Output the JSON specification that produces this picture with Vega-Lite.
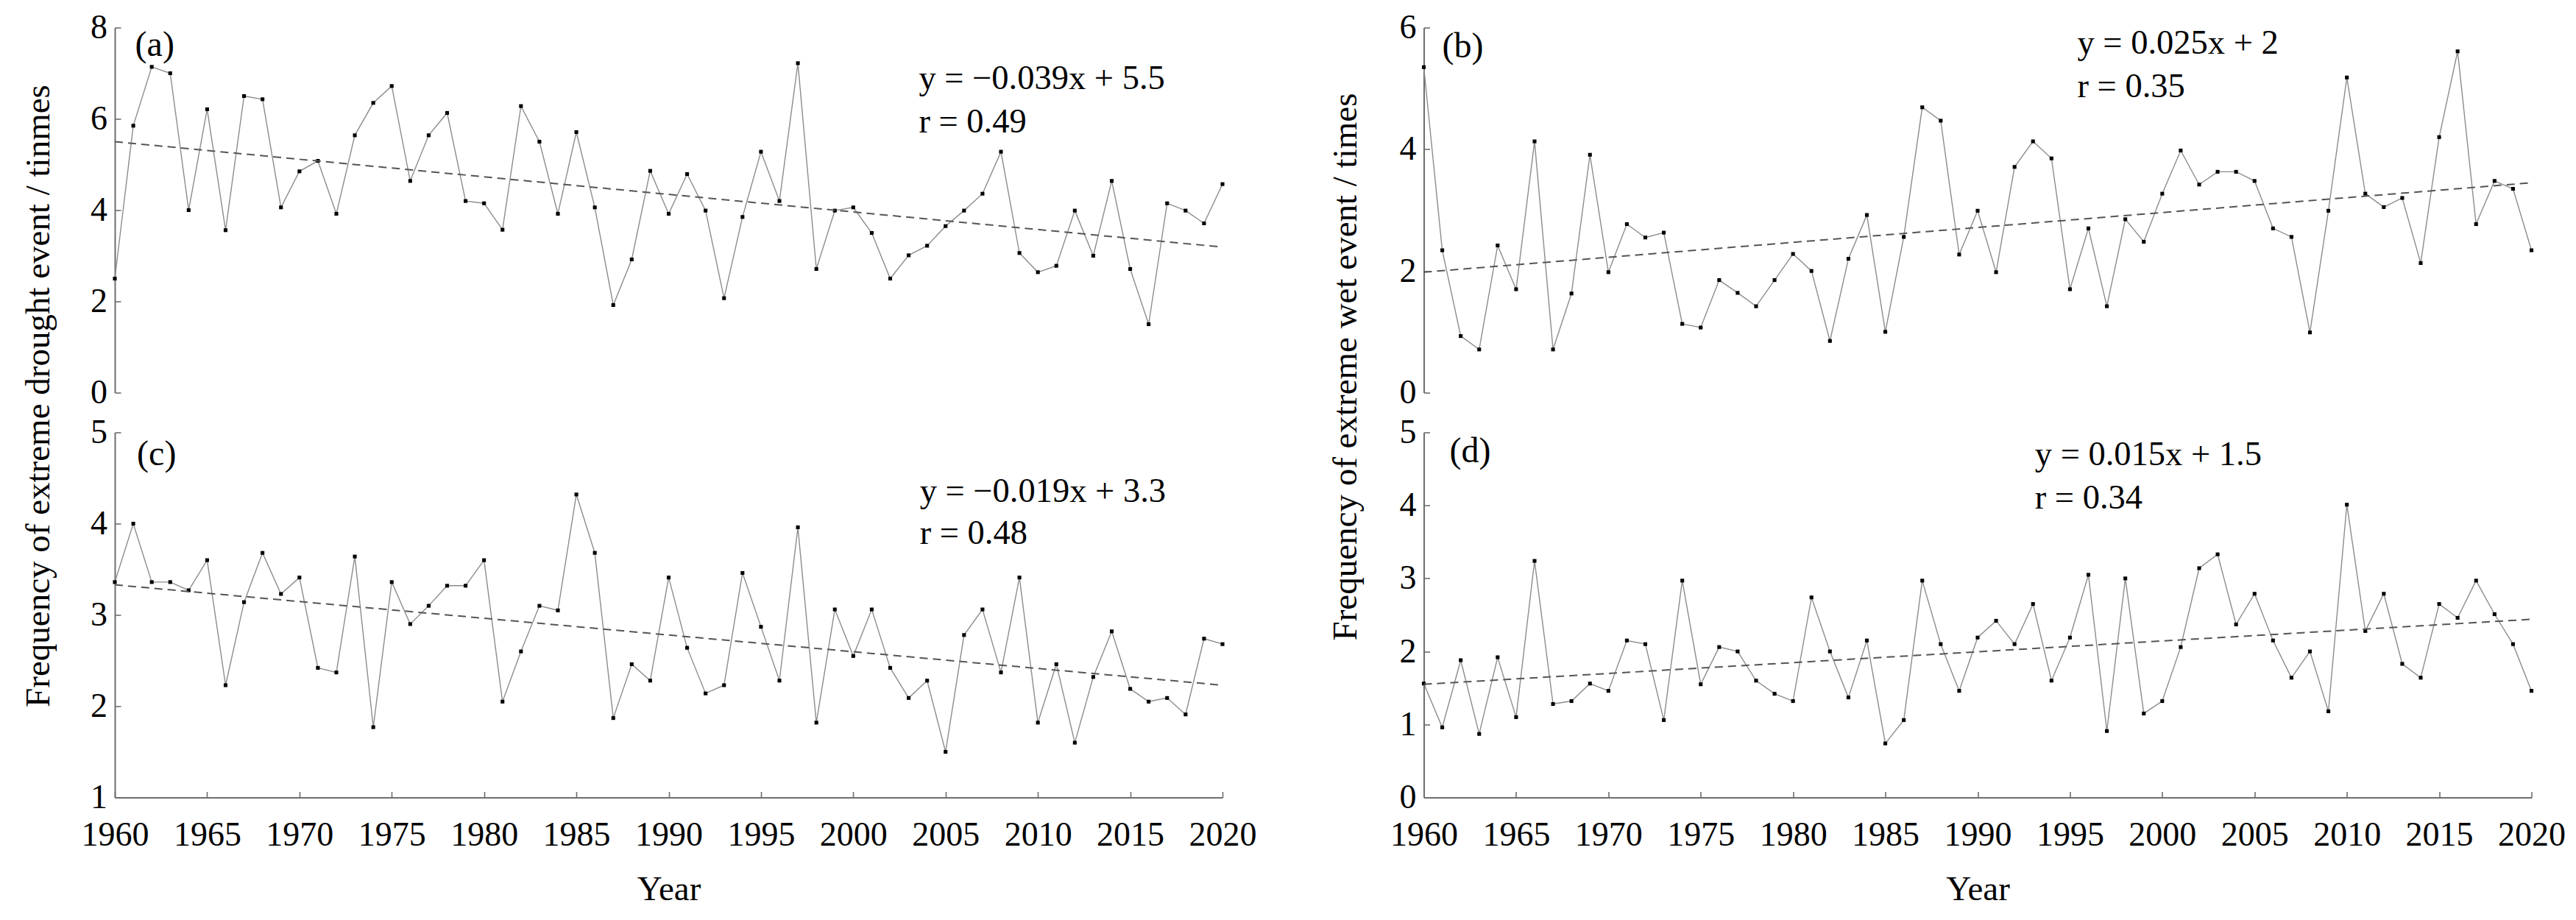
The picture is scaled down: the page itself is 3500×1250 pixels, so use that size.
{
  "$schema": "https://vega.github.io/schema/vega-lite/v6.json",
  "background": "white",
  "padding": {"left": 27, "top": 14.5, "right": 5, "bottom": 5},
  "config": {
    "view": {"stroke": null},
    "font": "Liberation Serif",
    "axis": {
      "grid": false,
      "domainColor": "#6e6e6e",
      "domainWidth": 2,
      "tickColor": "#6e6e6e",
      "tickWidth": 1.6,
      "tickSize": -8,
      "labelFont": "Liberation Serif",
      "labelFontSize": 46,
      "labelColor": "#000000",
      "titleFont": "Liberation Serif",
      "titleFontSize": 47,
      "titleFontWeight": "normal",
      "titleColor": "#000000"
    },
    "axisY": {"labelPadding": 18.5, "format": "d"},
    "axisX": {"labelPadding": 37, "labelFlush": false},
    "text": {"font": "Liberation Serif", "color": "#000000"}
  },
  "bounds": "flush",
  "columns": 2,
  "spacing": {"row": 54, "column": 273.5},
  "datasets": {
    "a": [
      {"year":1960,"v":2.50},{"year":1961,"v":5.85},{"year":1962,"v":7.14},{"year":1963,"v":7.00},{"year":1964,"v":4.00},{"year":1965,"v":6.21},{"year":1966,"v":3.56},{"year":1967,"v":6.50},{"year":1968,"v":6.43},{"year":1969,"v":4.06},
      {"year":1970,"v":4.85},{"year":1971,"v":5.08},{"year":1972,"v":3.92},{"year":1973,"v":5.64},{"year":1974,"v":6.35},{"year":1975,"v":6.72},{"year":1976,"v":4.64},{"year":1977,"v":5.64},{"year":1978,"v":6.13},{"year":1979,"v":4.20},
      {"year":1980,"v":4.15},{"year":1981,"v":3.57},{"year":1982,"v":6.28},{"year":1983,"v":5.50},{"year":1984,"v":3.92},{"year":1985,"v":5.71},{"year":1986,"v":4.06},{"year":1987,"v":1.92},{"year":1988,"v":2.92},{"year":1989,"v":4.86},
      {"year":1990,"v":3.92},{"year":1991,"v":4.79},{"year":1992,"v":3.99},{"year":1993,"v":2.07},{"year":1994,"v":3.85},{"year":1995,"v":5.28},{"year":1996,"v":4.20},{"year":1997,"v":7.22},{"year":1998,"v":2.71},{"year":1999,"v":3.99},
      {"year":2000,"v":4.06},{"year":2001,"v":3.50},{"year":2002,"v":2.50},{"year":2003,"v":3.01},{"year":2004,"v":3.22},{"year":2005,"v":3.65},{"year":2006,"v":3.99},{"year":2007,"v":4.36},{"year":2008,"v":5.28},{"year":2009,"v":3.06},
      {"year":2010,"v":2.64},{"year":2011,"v":2.78},{"year":2012,"v":3.99},{"year":2013,"v":3.00},{"year":2014,"v":4.64},{"year":2015,"v":2.71},{"year":2016,"v":1.50},{"year":2017,"v":4.15},{"year":2018,"v":3.99},{"year":2019,"v":3.71},{"year":2020,"v":4.57}
    ],
    "b": [
      {"year":1960,"v":5.35},{"year":1961,"v":2.34},{"year":1962,"v":0.93},{"year":1963,"v":0.71},{"year":1964,"v":2.42},{"year":1965,"v":1.70},{"year":1966,"v":4.13},{"year":1967,"v":0.71},{"year":1968,"v":1.63},{"year":1969,"v":3.91},
      {"year":1970,"v":1.98},{"year":1971,"v":2.77},{"year":1972,"v":2.55},{"year":1973,"v":2.63},{"year":1974,"v":1.13},{"year":1975,"v":1.07},{"year":1976,"v":1.85},{"year":1977,"v":1.64},{"year":1978,"v":1.42},{"year":1979,"v":1.85},
      {"year":1980,"v":2.28},{"year":1981,"v":2.00},{"year":1982,"v":0.85},{"year":1983,"v":2.20},{"year":1984,"v":2.92},{"year":1985,"v":1.00},{"year":1986,"v":2.56},{"year":1987,"v":4.69},{"year":1988,"v":4.47},{"year":1989,"v":2.27},
      {"year":1990,"v":2.99},{"year":1991,"v":1.98},{"year":1992,"v":3.71},{"year":1993,"v":4.13},{"year":1994,"v":3.85},{"year":1995,"v":1.70},{"year":1996,"v":2.70},{"year":1997,"v":1.42},{"year":1998,"v":2.85},{"year":1999,"v":2.48},
      {"year":2000,"v":3.27},{"year":2001,"v":3.98},{"year":2002,"v":3.42},{"year":2003,"v":3.63},{"year":2004,"v":3.63},{"year":2005,"v":3.48},{"year":2006,"v":2.70},{"year":2007,"v":2.56},{"year":2008,"v":0.99},{"year":2009,"v":2.99},
      {"year":2010,"v":5.18},{"year":2011,"v":3.27},{"year":2012,"v":3.05},{"year":2013,"v":3.20},{"year":2014,"v":2.13},{"year":2015,"v":4.20},{"year":2016,"v":5.61},{"year":2017,"v":2.77},{"year":2018,"v":3.48},{"year":2019,"v":3.35},{"year":2020,"v":2.34}
    ],
    "c": [
      {"year":1960,"v":3.36},{"year":1961,"v":4.00},{"year":1962,"v":3.36},{"year":1963,"v":3.36},{"year":1964,"v":3.27},{"year":1965,"v":3.60},{"year":1966,"v":2.23},{"year":1967,"v":3.14},{"year":1968,"v":3.68},{"year":1969,"v":3.23},
      {"year":1970,"v":3.41},{"year":1971,"v":2.42},{"year":1972,"v":2.37},{"year":1973,"v":3.64},{"year":1974,"v":1.77},{"year":1975,"v":3.36},{"year":1976,"v":2.90},{"year":1977,"v":3.10},{"year":1978,"v":3.32},{"year":1979,"v":3.32},
      {"year":1980,"v":3.60},{"year":1981,"v":2.05},{"year":1982,"v":2.60},{"year":1983,"v":3.10},{"year":1984,"v":3.05},{"year":1985,"v":4.32},{"year":1986,"v":3.68},{"year":1987,"v":1.87},{"year":1988,"v":2.46},{"year":1989,"v":2.28},
      {"year":1990,"v":3.41},{"year":1991,"v":2.64},{"year":1992,"v":2.14},{"year":1993,"v":2.23},{"year":1994,"v":3.46},{"year":1995,"v":2.87},{"year":1996,"v":2.28},{"year":1997,"v":3.96},{"year":1998,"v":1.82},{"year":1999,"v":3.06},
      {"year":2000,"v":2.55},{"year":2001,"v":3.06},{"year":2002,"v":2.42},{"year":2003,"v":2.09},{"year":2004,"v":2.28},{"year":2005,"v":1.50},{"year":2006,"v":2.78},{"year":2007,"v":3.06},{"year":2008,"v":2.37},{"year":2009,"v":3.41},
      {"year":2010,"v":1.82},{"year":2011,"v":2.46},{"year":2012,"v":1.60},{"year":2013,"v":2.32},{"year":2014,"v":2.82},{"year":2015,"v":2.19},{"year":2016,"v":2.05},{"year":2017,"v":2.09},{"year":2018,"v":1.91},{"year":2019,"v":2.74},{"year":2020,"v":2.68}
    ],
    "d": [
      {"year":1960,"v":1.56},{"year":1961,"v":0.96},{"year":1962,"v":1.88},{"year":1963,"v":0.87},{"year":1964,"v":1.92},{"year":1965,"v":1.10},{"year":1966,"v":3.24},{"year":1967,"v":1.28},{"year":1968,"v":1.32},{"year":1969,"v":1.56},
      {"year":1970,"v":1.46},{"year":1971,"v":2.15},{"year":1972,"v":2.10},{"year":1973,"v":1.06},{"year":1974,"v":2.97},{"year":1975,"v":1.55},{"year":1976,"v":2.06},{"year":1977,"v":2.00},{"year":1978,"v":1.60},{"year":1979,"v":1.42},
      {"year":1980,"v":1.32},{"year":1981,"v":2.74},{"year":1982,"v":2.00},{"year":1983,"v":1.37},{"year":1984,"v":2.15},{"year":1985,"v":0.74},{"year":1986,"v":1.06},{"year":1987,"v":2.97},{"year":1988,"v":2.10},{"year":1989,"v":1.46},
      {"year":1990,"v":2.19},{"year":1991,"v":2.42},{"year":1992,"v":2.10},{"year":1993,"v":2.65},{"year":1994,"v":1.60},{"year":1995,"v":2.19},{"year":1996,"v":3.05},{"year":1997,"v":0.91},{"year":1998,"v":3.00},{"year":1999,"v":1.15},
      {"year":2000,"v":1.32},{"year":2001,"v":2.06},{"year":2002,"v":3.14},{"year":2003,"v":3.33},{"year":2004,"v":2.37},{"year":2005,"v":2.79},{"year":2006,"v":2.15},{"year":2007,"v":1.64},{"year":2008,"v":2.00},{"year":2009,"v":1.18},
      {"year":2010,"v":4.01},{"year":2011,"v":2.28},{"year":2012,"v":2.79},{"year":2013,"v":1.83},{"year":2014,"v":1.64},{"year":2015,"v":2.65},{"year":2016,"v":2.46},{"year":2017,"v":2.97},{"year":2018,"v":2.51},{"year":2019,"v":2.10},{"year":2020,"v":1.46}
    ],
    "ta": [{"year":1960,"t":5.50},{"year":2020,"t":3.19}],
    "tb": [{"year":1960,"t":1.98},{"year":2020,"t":3.45}],
    "tc": [{"year":1960,"t":3.33},{"year":2020,"t":2.23}],
    "td": [{"year":1960,"t":1.55},{"year":2020,"t":2.44}]
  },
  "concat": [
    {
      "width": 1505, "height": 496,
      "layer": [
        {"data": {"name": "a"}, "mark": {"type": "line", "color": "#8c8c8c", "strokeWidth": 1.4},
         "encoding": {
           "x": {"field": "year", "type": "quantitative", "scale": {"domain": [1960, 2020], "nice": false, "zero": false}, "axis": null},
           "y": {"field": "v", "type": "quantitative", "scale": {"domain": [0, 8], "nice": false, "zero": false},
                 "axis": {"values": [0, 2, 4, 6, 8], "title": "Frequency of extreme drought event / tinmes", "titleX": -90, "titleY": 500, "titleAlign": "center", "titleBaseline": "alphabetic", "titleAngle": -90}}}},
        {"data": {"name": "a"}, "mark": {"type": "point", "shape": "square", "filled": true, "color": "#000000", "size": 26, "opacity": 1},
         "encoding": {"x": {"field": "year", "type": "quantitative"}, "y": {"field": "v", "type": "quantitative"}}},
        {"data": {"name": "ta"}, "mark": {"type": "line", "color": "#555555", "strokeWidth": 2, "strokeDash": [11, 7]},
         "encoding": {"x": {"field": "year", "type": "quantitative"}, "y": {"field": "t", "type": "quantitative"}}},
        {"data": {"values": [{}]}, "mark": {"type": "text", "align": "left", "baseline": "alphabetic", "fontSize": 48},
         "encoding": {"x": {"datum": 1961.1}, "y": {"datum": 7.38}, "text": {"value": "(a)"}}},
        {"data": {"values": [{}]}, "mark": {"type": "text", "align": "left", "baseline": "alphabetic", "fontSize": 46.5},
         "encoding": {"x": {"datum": 2003.55}, "y": {"datum": 6.65}, "text": {"value": "y = −0.039x + 5.5"}}},
        {"data": {"values": [{}]}, "mark": {"type": "text", "align": "left", "baseline": "alphabetic", "fontSize": 46.5},
         "encoding": {"x": {"datum": 2003.55}, "y": {"datum": 5.70}, "text": {"value": "r = 0.49"}}}
      ]
    },
    {
      "width": 1505, "height": 496,
      "layer": [
        {"data": {"name": "b"}, "mark": {"type": "line", "color": "#8c8c8c", "strokeWidth": 1.4},
         "encoding": {
           "x": {"field": "year", "type": "quantitative", "scale": {"domain": [1960, 2020], "nice": false, "zero": false}, "axis": null},
           "y": {"field": "v", "type": "quantitative", "scale": {"domain": [0, 6], "nice": false, "zero": false},
                 "axis": {"values": [0, 2, 4, 6], "title": "Frequency of extreme wet event / times", "titleX": -92.5, "titleY": 460.5, "titleAlign": "center", "titleBaseline": "alphabetic", "titleAngle": -90}}}},
        {"data": {"name": "b"}, "mark": {"type": "point", "shape": "square", "filled": true, "color": "#000000", "size": 26, "opacity": 1},
         "encoding": {"x": {"field": "year", "type": "quantitative"}, "y": {"field": "v", "type": "quantitative"}}},
        {"data": {"name": "tb"}, "mark": {"type": "line", "color": "#555555", "strokeWidth": 2, "strokeDash": [11, 7]},
         "encoding": {"x": {"field": "year", "type": "quantitative"}, "y": {"field": "t", "type": "quantitative"}}},
        {"data": {"values": [{}]}, "mark": {"type": "text", "align": "left", "baseline": "alphabetic", "fontSize": 48},
         "encoding": {"x": {"datum": 1961.0}, "y": {"datum": 5.51}, "text": {"value": "(b)"}}},
        {"data": {"values": [{}]}, "mark": {"type": "text", "align": "left", "baseline": "alphabetic", "fontSize": 46.5},
         "encoding": {"x": {"datum": 1995.4}, "y": {"datum": 5.57}, "text": {"value": "y = 0.025x + 2"}}},
        {"data": {"values": [{}]}, "mark": {"type": "text", "align": "left", "baseline": "alphabetic", "fontSize": 46.5},
         "encoding": {"x": {"datum": 1995.4}, "y": {"datum": 4.86}, "text": {"value": "r = 0.35"}}}
      ]
    },
    {
      "width": 1505, "height": 496,
      "layer": [
        {"data": {"name": "c"}, "mark": {"type": "line", "color": "#8c8c8c", "strokeWidth": 1.4},
         "encoding": {
           "x": {"field": "year", "type": "quantitative", "scale": {"domain": [1960, 2020], "nice": false, "zero": false},
                 "axis": {"values": [1960, 1965, 1970, 1975, 1980, 1985, 1990, 1995, 2000, 2005, 2010, 2015, 2020], "format": "d", "title": "Year", "titleY": 139, "titleBaseline": "alphabetic"}},
           "y": {"field": "v", "type": "quantitative", "scale": {"domain": [1, 5], "nice": false, "zero": false},
                 "axis": {"values": [1, 2, 3, 4, 5], "title": null}}}},
        {"data": {"name": "c"}, "mark": {"type": "point", "shape": "square", "filled": true, "color": "#000000", "size": 26, "opacity": 1},
         "encoding": {"x": {"field": "year", "type": "quantitative"}, "y": {"field": "v", "type": "quantitative"}}},
        {"data": {"name": "tc"}, "mark": {"type": "line", "color": "#555555", "strokeWidth": 2, "strokeDash": [11, 7]},
         "encoding": {"x": {"field": "year", "type": "quantitative"}, "y": {"field": "t", "type": "quantitative"}}},
        {"data": {"values": [{}]}, "mark": {"type": "text", "align": "left", "baseline": "alphabetic", "fontSize": 48},
         "encoding": {"x": {"datum": 1961.2}, "y": {"datum": 4.64}, "text": {"value": "(c)"}}},
        {"data": {"values": [{}]}, "mark": {"type": "text", "align": "left", "baseline": "alphabetic", "fontSize": 46.5},
         "encoding": {"x": {"datum": 2003.6}, "y": {"datum": 4.24}, "text": {"value": "y = −0.019x + 3.3"}}},
        {"data": {"values": [{}]}, "mark": {"type": "text", "align": "left", "baseline": "alphabetic", "fontSize": 46.5},
         "encoding": {"x": {"datum": 2003.6}, "y": {"datum": 3.78}, "text": {"value": "r = 0.48"}}}
      ]
    },
    {
      "width": 1505, "height": 496,
      "layer": [
        {"data": {"name": "d"}, "mark": {"type": "line", "color": "#8c8c8c", "strokeWidth": 1.4},
         "encoding": {
           "x": {"field": "year", "type": "quantitative", "scale": {"domain": [1960, 2020], "nice": false, "zero": false},
                 "axis": {"values": [1960, 1965, 1970, 1975, 1980, 1985, 1990, 1995, 2000, 2005, 2010, 2015, 2020], "format": "d", "title": "Year", "titleY": 139, "titleBaseline": "alphabetic"}},
           "y": {"field": "v", "type": "quantitative", "scale": {"domain": [0, 5], "nice": false, "zero": false},
                 "axis": {"values": [0, 1, 2, 3, 4, 5], "title": null}}}},
        {"data": {"name": "d"}, "mark": {"type": "point", "shape": "square", "filled": true, "color": "#000000", "size": 26, "opacity": 1},
         "encoding": {"x": {"field": "year", "type": "quantitative"}, "y": {"field": "v", "type": "quantitative"}}},
        {"data": {"name": "td"}, "mark": {"type": "line", "color": "#555555", "strokeWidth": 2, "strokeDash": [11, 7]},
         "encoding": {"x": {"field": "year", "type": "quantitative"}, "y": {"field": "t", "type": "quantitative"}}},
        {"data": {"values": [{}]}, "mark": {"type": "text", "align": "left", "baseline": "alphabetic", "fontSize": 48},
         "encoding": {"x": {"datum": 1961.4}, "y": {"datum": 4.59}, "text": {"value": "(d)"}}},
        {"data": {"values": [{}]}, "mark": {"type": "text", "align": "left", "baseline": "alphabetic", "fontSize": 46.5},
         "encoding": {"x": {"datum": 1993.1}, "y": {"datum": 4.55}, "text": {"value": "y = 0.015x + 1.5"}}},
        {"data": {"values": [{}]}, "mark": {"type": "text", "align": "left", "baseline": "alphabetic", "fontSize": 46.5},
         "encoding": {"x": {"datum": 1993.1}, "y": {"datum": 3.96}, "text": {"value": "r = 0.34"}}}
      ]
    }
  ]
}
